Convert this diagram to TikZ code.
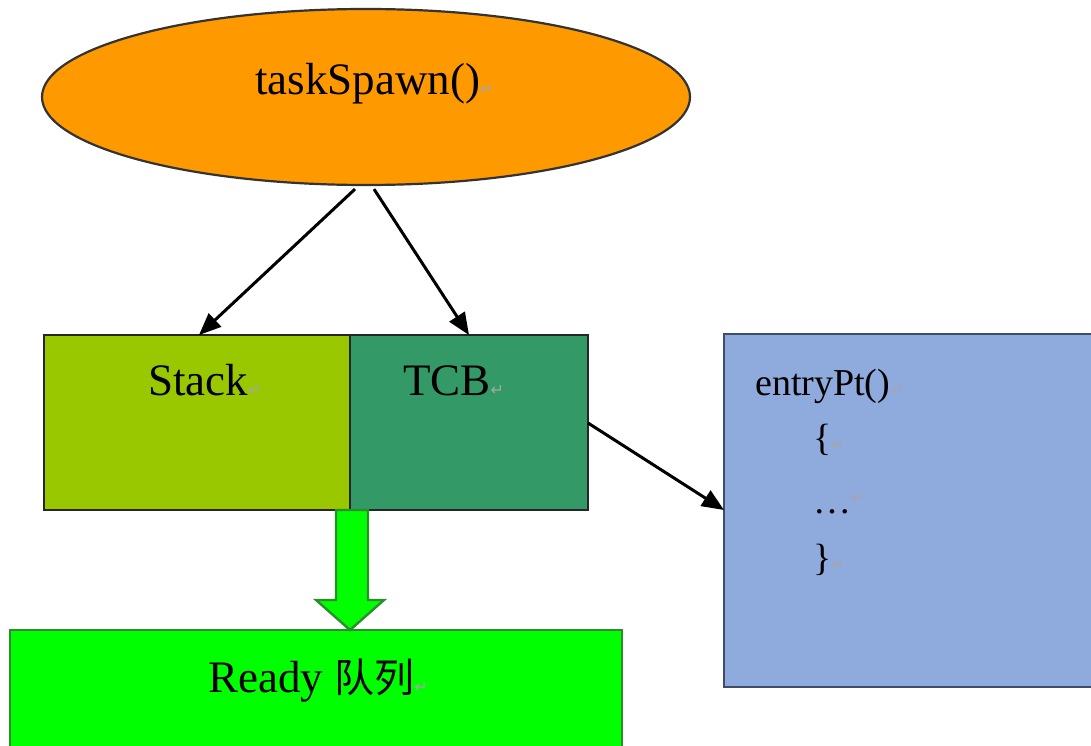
\documentclass[tikz,border=0pt]{standalone}
\usepackage{fontspec}
\setmainfont{Liberation Serif}
\newfontfamily\cjkfont{Noto Sans CJK SC}
\newfontfamily\dejavufont{DejaVu Sans}
\usetikzlibrary{shapes.geometric,arrows.meta}
\definecolor{spawnfill}{HTML}{FF9900}
\definecolor{stackfill}{HTML}{99C800}
\definecolor{tcbfill}{HTML}{339966}
\definecolor{entryfill}{HTML}{8FAADC}
\definecolor{entryline}{HTML}{3E4C68}
\definecolor{readyfill}{HTML}{00FF00}
\definecolor{readyline}{HTML}{2A8F2A}
\newcommand{\pmk}{{\dejavufont\fontsize{16}{16}\selectfont\textcolor{black!35}{↵}}}
\tikzset{
  boxstyle/.style={draw, line width=2.6pt, minimum width=0pt, inner sep=0pt},
  bigtext/.style={font=\fontsize{45}{50}\selectfont, inner sep=0pt, anchor=base west},
  codetext/.style={font=\fontsize{38}{44}\selectfont, inner sep=0pt, anchor=base west},
  conn/.style={line width=3pt, -{Triangle[length=22pt,width=18pt]}},
}
\begin{document}
\begin{tikzpicture}[x=1pt,y=-1pt]
\useasboundingbox (0,0) rectangle (1091,746);
\fill[white] (0,0) rectangle (1091,746);
\clip (0,0) rectangle (1091,746);

% ellipse
\node[ellipse, draw=black!80, line width=2.2pt, fill=spawnfill, minimum width=648pt, minimum height=176pt, inner sep=0pt] (spawn) at (366,97) {};
\node[bigtext] (spawntxt) at (255,95) {taskSpawn()\pmk};

% stack and tcb
\path[boxstyle, draw=black!85, fill=stackfill] (44,335) rectangle (350,510);
\path[boxstyle, draw=black!85, fill=tcbfill] (350,335) rectangle (588,510);
\coordinate (stackN) at (199,335);
\coordinate (tcbN) at (469,335);
\coordinate (tcbE) at (588,423);
\coordinate (split) at (350,510);
\node[bigtext] (stacktxt) at (148,395) {Stack\pmk};
\node[bigtext] (tcbtxt) at (403,395) {TCB\pmk};

% entry box
\path[boxstyle, draw=entryline, fill=entryfill] (724,334) rectangle (1100,687);
\coordinate (entryW) at (724,510);
\node[codetext] (e1) at (755,395) {entryPt()\pmk};
\node[codetext] (e2) at (813,450) {\{\pmk};
\node[codetext] (e3) at (813,513) {\dots\raisebox{10pt}{\pmk}};
\node[codetext] (e4) at (813,570) {\}\pmk};

% ready box
\path[boxstyle, draw=readyline, fill=readyfill] (10,630) rectangle (622,760);
\coordinate (readyN) at (350,630);
\node[bigtext] (readytxt) at (208,692) {Ready {\cjkfont\fontsize{40}{44}\selectfont 队列}\pmk};

% block arrow
\draw[readyline, line width=2.4pt, fill=readyfill, line join=miter]
  ([xshift=-14]split) -- ([xshift=-14,yshift=30]readyN) -- ([xshift=-34,yshift=30]readyN)
  -- (readyN) -- ([xshift=34,yshift=30]readyN) -- ([xshift=18,yshift=30]readyN)
  -- ([xshift=18]split) -- cycle;

% connectors
\draw[conn] ([xshift=-11,yshift=-3]spawn.south) -- (stackN);
\draw[conn] ([xshift=8,yshift=-3]spawn.south) -- (tcbN);
\draw[conn] (tcbE) -- (entryW);
\end{tikzpicture}
\end{document}
